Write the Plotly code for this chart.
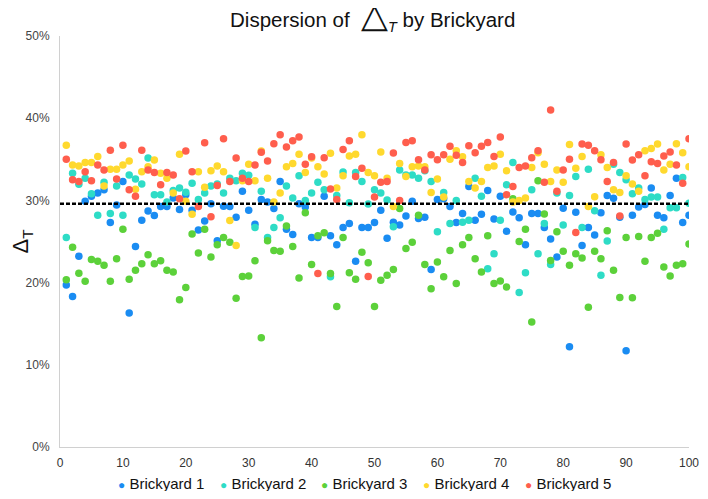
import plotly.graph_objects as go

x_vals = list(range(1, 101))

brickyard_1 = [19.7, 18.3, 23.2, 29.9, 30.5, 30.9, 31.3, 27.3, 29.45, 32.3,
               16.3, 24.4, 27.6, 28.7, 28.15, 29.25, 29.25, 30.3, 28.9, 30.7,
               28.8, 26.4, 27.5, 29.6, 25.1, 29.3, 29.25, 27.95, 31.1, 28.8,
               27.1, 30.1, 29.8, 29.0, 32.3, 26.5, 25.85, 29.6, 29.2, 25.5,
               25.5, 30.5, 25.7, 24.6, 26.7, 27.2, 22.6, 26.7, 26.7, 27.3,
               28.8, 25.4, 27.35, 27.0, 28.1, 29.9, 27.8, 27.95, 21.6, 30.1,
               30.2, 29.25, 27.3, 28.4, 31.7, 27.6, 28.3, 31.2, 27.75, 30.5,
               26.25, 28.6, 27.9, 24.6, 28.4, 28.4, 26.7, 25.3, 23.1, 29.05,
               12.2, 28.55, 24.5, 26.7, 25.8, 28.5, 30.6, 30.25, 27.95, 11.7,
               28.2, 29.2, 29.5, 31.5, 28.2, 27.9, 30.6, 32.7, 27.3, 28.2]

brickyard_2 = [25.5, 33.3, 31.95, 32.7, 30.8, 28.2, 32.2, 28.4, 31.75, 28.2,
               33.1, 32.6, 32.0, 35.15, 30.7, 30.7, 29.8, 31.2, 31.5, 31.0,
               32.1, 30.1, 30.9, 31.75, 32.0, 30.9, 32.7, 32.4, 33.3, 33.05,
               26.7, 31.1, 25.5, 26.7, 27.9, 31.75, 30.3, 33.0, 30.0, 30.9,
               32.2, 31.3, 20.7, 30.6, 33.45, 29.7, 33.4, 32.3, 29.57, 31.3,
               30.9, 30.05, 26.8, 33.7, 33.1, 33.1, 32.7, 33.6, 32.3, 26.2,
               30.95, 27.2, 30.0, 27.35, 27.6, 32.7, 30.5, 21.7, 23.5, 27.6,
               31.9, 34.6, 18.8, 21.2, 31.3, 23.5, 27.2, 22.2, 30.9, 27.0,
               30.6, 32.9, 26.7, 33.8, 28.75, 20.9, 25.05, 34.4, 33.4, 32.5,
               30.8, 31.5, 30.1, 30.4, 30.4, 26.5, 29.1, 29.1, 32.8, 29.65]

brickyard_3 = [20.35, 24.3, 21.15, 20.15, 22.8, 22.6, 22.1, 20.15, 22.9, 26.5,
               20.4, 21.5, 22.3, 23.4, 22.3, 22.65, 21.5, 21.3, 17.9, 19.4,
               25.9, 23.6, 26.5, 23.1, 24.6, 25.5, 24.9, 18.1, 20.75, 20.8,
               22.65, 13.3, 25.1, 23.9, 23.8, 26.9, 24.4, 20.55, 28.5, 22.2,
               25.7, 26.05, 21.1, 17.1, 25.5, 21.2, 20.4, 23.7, 22.4, 17.1,
               20.3, 20.9, 21.6, 29.0, 24.15, 24.9, 28.2, 22.2, 19.25, 22.5,
               20.7, 23.9, 19.9, 24.6, 25.5, 22.9, 21.3, 25.7, 19.9, 20.2,
               19.45, 30.2, 25.0, 26.5, 15.2, 32.4, 28.35, 22.7, 26.2, 23.8,
               22.1, 23.5, 23.0, 17.0, 23.8, 22.9, 26.3, 21.5, 18.2, 25.5,
               18.15, 25.6, 22.6, 25.5, 26.0, 21.9, 20.8, 22.1, 22.3, 24.7]

brickyard_4 = [36.7, 34.3, 34.2, 34.6, 34.6, 35.35, 31.75, 33.8, 33.8, 34.3,
               34.8, 31.35, 33.5, 34.1, 34.9, 33.3, 32.7, 30.9, 35.6, 29.9,
               28.3, 33.5, 31.6, 33.6, 34.2, 33.5, 27.55, 24.5, 32.4, 34.4,
               32.4, 36.0, 32.7, 29.8, 30.9, 34.1, 34.5, 35.6, 33.4, 35.15,
               34.1, 33.2, 35.75, 31.5, 33.0, 35.4, 35.6, 38.0, 33.4, 33.0,
               35.9, 32.7, 29.25, 34.5, 32.9, 34.1, 34.2, 34.1, 30.95, 32.6,
               30.4, 35.0, 36.05, 35.3, 32.3, 31.5, 32.3, 34.0, 34.2, 35.6,
               33.6, 29.8, 30.0, 30.3, 34.0, 35.8, 34.4, 32.3, 33.7, 32.2,
               36.8, 33.9, 35.35, 29.25, 30.45, 35.55, 34.0, 31.3, 30.95, 33.0,
               32.0, 31.1, 36.05, 36.3, 36.85, 33.7, 34.4, 36.9, 35.8, 34.1]

brickyard_5 = [35.0, 32.5, 32.3, 33.5, 32.4, 34.3, 33.7, 36.1, 32.6, 36.7,
               31.3, 30.5, 36.1, 33.7, 33.4, 31.9, 33.4, 33.1, 30.2, 36.0,
               33.5, 29.25, 37.0, 28.0, 31.8, 37.5, 32.3, 35.15, 32.7, 32.3,
               34.3, 35.85, 34.8, 36.9, 38.0, 36.5, 37.25, 37.7, 34.4, 35.3,
               21.1, 35.2, 31.4, 30.1, 36.2, 37.25, 32.9, 33.9, 20.75, 30.4,
               32.2, 32.3, 35.76, 30.0, 37.05, 37.25, 34.95, 33.7, 35.55, 34.95,
               35.55, 36.6, 35.5, 34.6, 36.65, 35.8, 36.6, 37.05, 35.35, 37.7,
               30.7, 31.7, 34.0, 34.2, 35.2, 36.05, 32.2, 41.0, 31.1, 33.7,
               35.0, 26.1, 36.85, 36.7, 36.05, 34.95, 32.3, 34.6, 28.1, 36.85,
               34.9, 35.55, 33.0, 34.7, 34.5, 35.4, 35.9, 34.3, 32.1, 37.5]

series_names = ["Brickyard 1", "Brickyard 2", "Brickyard 3", "Brickyard 4", "Brickyard 5"]
series_colors = ["#1A8CF2", "#2EDCC6", "#5CD13A", "#FFD92E", "#FF5E4D"]
mean_x = [0, 100]
mean_y = [29.6, 29.6]

fig = go.Figure()
for name, vals, col in zip(series_names,
                           [brickyard_1, brickyard_2, brickyard_3, brickyard_4, brickyard_5],
                           series_colors):
    fig.add_trace(go.Scatter(x=x_vals, y=vals, mode="markers", name=name,
                             marker=dict(color=col, size=7.5, line=dict(width=0))))

fig.add_trace(go.Scatter(x=mean_x, y=mean_y, mode="lines", showlegend=False,
                         line=dict(color="black", width=2.4, dash="4px,2px"),
                         hoverinfo="skip"))

# compact legend row (like the reference) built from the series names/colours
legend_centers = [0.161, 0.323, 0.484, 0.646, 0.807]
for name, col, cx in zip(series_names, series_colors, legend_centers):
    fig.add_annotation(
        text=f'<span style="color:{col};font-size:12px">●</span> {name}',
        xref="paper", yref="paper", x=cx, y=-0.0876, xanchor="center", yanchor="middle",
        showarrow=False, font=dict(size=15, color="#111"))

fig.update_layout(
    width=700, height=483,
    paper_bgcolor="white", plot_bgcolor="white",
    font=dict(family="Liberation Sans, Arial, sans-serif", color="#222"),
    title=dict(text='Dispersion of&nbsp; <span style="font-size:35px">△</span><sub><i>T</i></sub> by Brickyard',
               x=0.521, xanchor="center", y=0.975, yanchor="middle",
               font=dict(size=20.5, color="#111")),
    margin=dict(l=52, r=19, t=28, b=44, autoexpand=False),
    showlegend=False,
)
fig.update_xaxes(range=[0, 100], dtick=10, tick0=0, showgrid=False, zeroline=False,
                 showline=True, linecolor="#d0d0d0", linewidth=1, ticks="",
                 automargin=False, ticklabeloverflow="allow", ticklabelstandoff=5,
                 tickfont=dict(size=12, color="#333"))
fig.update_yaxes(range=[0, 50], dtick=10, ticksuffix="%", showgrid=False, zeroline=False,
                 showline=True, linecolor="#d0d0d0", linewidth=1, ticks="",
                 automargin=False, ticklabelstandoff=7,
                 tickfont=dict(size=12, color="#444"),
                 title=dict(text="Δ<sub>T</sub>", font=dict(size=22, color="#111"), standoff=20))

fig.write_html("out.html")
